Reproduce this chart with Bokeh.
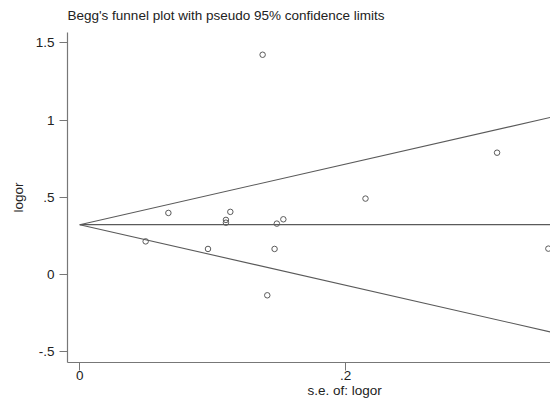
from bokeh.plotting import figure
from bokeh.models import FixedTicker, ColumnDataSource, Title
from bokeh.embed import file_html
from bokeh.resources import INLINE
import numpy as np

# Study data: standard error of logor, logor
se = [0.1376, 0.0496, 0.0667, 0.0965, 0.1100, 0.1100, 0.1133, 0.1411,
      0.1466, 0.1483, 0.1532, 0.2150, 0.3140, 0.3526]
logor = [1.423, 0.215, 0.399, 0.166, 0.354, 0.336, 0.406, -0.134,
         0.166, 0.330, 0.358, 0.492, 0.789, 0.168]
pooled = 0.323
se_line = [0.0, 0.40]

y_ticks = [-0.5, 0, 0.5, 1, 1.5]
y_tick_labels = ["-.5", "0", ".5", "1", "1.5"]
x_ticks = [0, 0.2, 0.4]
x_tick_labels = ["0", ".2", ".4"]

FONT = "Liberation Sans"
FS = "13.5px"
GREY = "#5a5a5a"
TXT = "#222222"

p = figure(width=550, height=406, output_backend="svg", toolbar_location=None,
           x_range=(-0.0092, 0.3542), y_range=(-0.569, 1.567),
           min_border_left=67, min_border_right=0, min_border_bottom=44,
           min_border_top=32)
p.outline_line_color = None
p.grid.grid_line_color = None
p.background_fill_color = "white"

p.title.text = "Begg's funnel plot with pseudo 95% confidence limits"
p.title.text_font = FONT
p.title.text_font_size = FS
p.title.text_font_style = "normal"
p.title.text_color = TXT
p.title.align = "left"
p.title.vertical_align = "top"
p.title.offset = 0
p.title.standoff = 15

# funnel lines
xs = np.array(se_line)
p.line(xs, [pooled, pooled], line_color=GREY, line_width=1.3)
p.line(xs, pooled + 1.96 * xs, line_color=GREY, line_width=1.1)
p.line(xs, pooled - 1.96 * xs, line_color=GREY, line_width=1.1)

src = ColumnDataSource(dict(se=se, logor=logor))
p.scatter("se", "logor", source=src, marker="circle", size=5.5,
          fill_color=None, line_color=GREY, line_width=1)

for ax in (p.xaxis[0], p.yaxis[0]):
    ax.axis_line_color = "#777777"
    ax.axis_line_width = 1.2
    ax.major_tick_line_color = "#777777"
    ax.major_tick_out = 8
    ax.major_tick_in = 0
    ax.minor_tick_line_color = None
    ax.major_label_text_font = FONT
    ax.major_label_text_font_size = FS
    ax.major_label_text_color = TXT
    ax.axis_label_text_font = FONT
    ax.axis_label_text_font_size = FS
    ax.axis_label_text_font_style = "normal"
    ax.axis_label_text_color = TXT

p.yaxis.ticker = FixedTicker(ticks=y_ticks)
p.yaxis.major_label_overrides = {t: l for t, l in zip(y_ticks, y_tick_labels)}
p.yaxis.major_label_orientation = "horizontal"
p.yaxis.major_label_standoff = 5
p.yaxis.axis_label = "logor"
p.yaxis.axis_label_standoff = 7

p.xaxis.ticker = FixedTicker(ticks=x_ticks)
p.xaxis.major_label_overrides = {t: l for t, l in zip(x_ticks, x_tick_labels)}
p.xaxis.major_label_standoff = 0

# x-axis title: centred on the full plot region, which extends past the crop
xt = Title(text="s.e. of: logor", text_font=FONT, text_font_size=FS,
           text_font_style="normal", text_color=TXT, align="left",
           vertical_align="top", offset=240, standoff=0)
p.add_layout(xt, "below")

open("out.html", "w").write(file_html(p, INLINE))
